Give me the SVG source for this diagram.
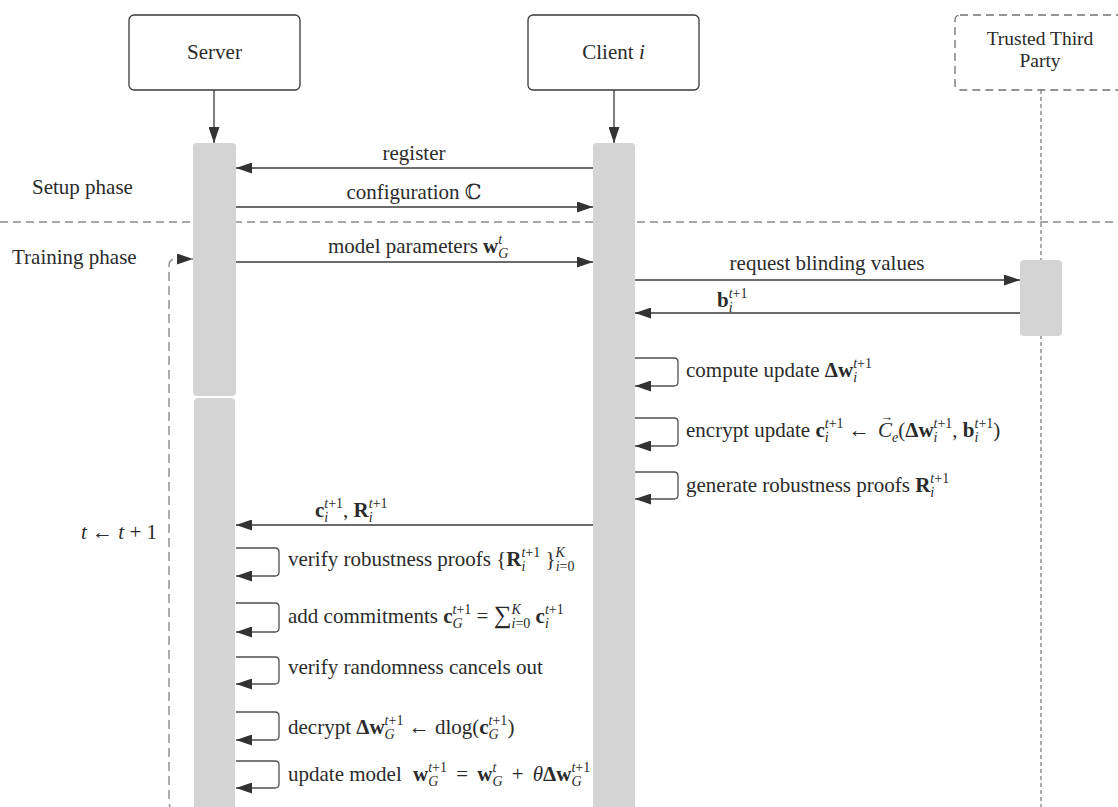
<svg xmlns="http://www.w3.org/2000/svg" width="1118" height="807" viewBox="0 0 1118 807">
  <style>
    .t { font-family: "Liberation Serif", "DejaVu Serif", serif; font-size: 21px; fill: #2b2b2b; }
    .b { font-weight: bold; }
    .i { font-style: italic; }
    .s { font-size: 14px; }
    .acc { font-size: 13px; }
    .big { font-size: 25px; }
    .box { fill: #ffffff; stroke: #3a3a3a; stroke-width: 1.3; }
    .ttp { fill: #ffffff; stroke: #707070; stroke-width: 1.3; stroke-dasharray: 8 5; }
    .bar { fill: #d4d4d4; }
    .msg { fill: none; stroke: #3a3a3a; stroke-width: 1.3; marker-end: url(#ah); }
    .loop { fill: none; stroke: #505050; stroke-width: 1.3; marker-end: url(#ah); }
    .sep { stroke: #8a8a8a; stroke-width: 1.4; stroke-dasharray: 8 5; }
    .life { stroke: #6a6a6a; stroke-width: 1.1; stroke-dasharray: 4 3; }
    .again { fill: none; stroke: #8a8a8a; stroke-width: 1.4; stroke-dasharray: 9 5; marker-end: url(#ah); }
  </style>
  <defs>
    <marker id="ah" markerUnits="userSpaceOnUse" markerWidth="17" markerHeight="11" refX="16" refY="5.5" orient="auto">
      <path d="M0,0 L16,5.5 L0,11 z" fill="#333333"/>
    </marker>
  </defs>

  <!-- phase separator and third-party lifeline -->
  <line class="sep" x1="0" y1="222" x2="1118" y2="222"/>
  <line class="life" x1="1041" y1="90" x2="1041" y2="807"/>

  <!-- participants -->
  <g id="server">
    <rect class="box" x="129" y="15" width="171" height="75" rx="5"/>
    <text class="t" x="214.5" y="59" text-anchor="middle">Server</text>
  </g>
  <g id="client">
    <rect class="box" x="528" y="15" width="171" height="75" rx="5"/>
    <text class="t" x="613.5" y="59" text-anchor="middle">Client <tspan class="i">i</tspan></text>
  </g>
  <g id="ttp">
    <rect class="ttp" x="955" y="15" width="175" height="75" rx="5"/>
    <text class="t" x="1040" y="45" text-anchor="middle" style="font-size:19.5px">Trusted Third</text>
    <text class="t" x="1040" y="67" text-anchor="middle" style="font-size:19.5px">Party</text>
  </g>

  <!-- activation bars -->
  <g id="server-activation">
    <rect class="bar" x="193" y="143" width="43" height="253" rx="4"/>
    <rect class="bar" x="194" y="398" width="41" height="430" rx="4"/>
  </g>
  <g id="client-activation">
    <rect class="bar" x="593" y="143" width="42" height="690" rx="4"/>
  </g>
  <g id="ttp-activation">
    <rect class="bar" x="1020" y="260" width="42" height="76" rx="4"/>
  </g>

  <!-- phase labels -->
  <g id="phases">
    <text class="t" x="32" y="194">Setup phase</text>
    <text class="t" x="12" y="264">Training phase</text>
    <text class="t" x="81" y="539"><tspan class="i">t</tspan> ← <tspan class="i">t</tspan> + 1</text>
  </g>

  <!-- connectors -->
  <g id="connectors">
    <line class="msg" x1="214" y1="90" x2="214" y2="143"/>
    <line class="msg" x1="614" y1="90" x2="614" y2="143"/>
    <line class="msg" x1="593" y1="168" x2="236" y2="168"/>
    <line class="msg" x1="236" y1="207" x2="593" y2="207"/>
    <line class="msg" x1="236" y1="262" x2="593" y2="262"/>
    <path class="again" d="M173 812 Q169 808 169 800 L169 266 Q169 259 176 259 L193 259"/>
    <line class="msg" x1="635" y1="280" x2="1020" y2="280"/>
    <line class="msg" x1="1020" y1="313" x2="635" y2="313"/>
    <path class="loop" d="M635 358 H674 Q678 358 678 362 V382 Q678 386 674 386 H635"/>
    <path class="loop" d="M635 418 H674 Q678 418 678 422 V442 Q678 446 674 446 H635"/>
    <path class="loop" d="M635 472 H674 Q678 472 678 476 V495 Q678 499 674 499 H635"/>
    <line class="msg" x1="593" y1="525" x2="236" y2="525"/>
    <path class="loop" d="M236 548 H275 Q279 548 279 552 V572 Q279 576 275 576 H236"/>
    <path class="loop" d="M236 603 H275 Q279 603 279 607 V628 Q279 632 275 632 H236"/>
    <path class="loop" d="M236 657 H275 Q279 657 279 661 V680 Q279 684 275 684 H236"/>
    <path class="loop" d="M236 712 H275 Q279 712 279 716 V736 Q279 740 275 740 H236"/>
    <path class="loop" d="M236 761 H275 Q279 761 279 765 V784 Q279 788 275 788 H236"/>
  </g>

  <!-- message labels -->
  <g id="labels">
    <text class="t" x="414" y="160" text-anchor="middle">register</text>
    <text class="t" x="414" y="199" text-anchor="middle">configuration ℂ</text>
    <text class="t" x="328" y="253">model parameters <tspan class="b">w</tspan><tspan class="s i" dy="5">G</tspan><tspan class="s i" dx="-10.1" dy="-14">t</tspan></text>
    <text class="t" x="827" y="270" text-anchor="middle">request blinding values</text>
    <text class="t" x="717" y="307"><tspan class="b">b</tspan><tspan class="s i" dy="5">i</tspan><tspan class="s" dx="-3.9" dy="-14"><tspan class="i">t</tspan>+1</tspan></text>
    <text class="t" x="686" y="377">compute update <tspan class="b">Δw</tspan><tspan class="s i" dy="5">i</tspan><tspan class="s" dx="-3.9" dy="-14"><tspan class="i">t</tspan>+1</tspan></text>
    <!-- the small arrow is the vector accent over C -->
    <text class="t" x="686" y="437">encrypt update  <tspan class="b">c</tspan><tspan class="s i" dy="5">i</tspan><tspan class="s" dx="-3.9" dy="-14"><tspan class="i">t</tspan>+1</tspan><tspan dy="9"> ←</tspan><tspan class="acc" x="880" y="421">→</tspan><tspan class="i" x="878" y="437">C</tspan><tspan class="s i" dy="5">e</tspan><tspan dy="-5">(</tspan><tspan class="b">Δw</tspan><tspan class="s i" dy="5">i</tspan><tspan class="s" dx="-3.9" dy="-14"><tspan class="i">t</tspan>+1</tspan><tspan dy="9">, </tspan><tspan class="b">b</tspan><tspan class="s i" dy="5">i</tspan><tspan class="s" dx="-3.9" dy="-14"><tspan class="i">t</tspan>+1</tspan><tspan dy="9">)</tspan></text>
    <text class="t" x="686" y="492">generate robustness proofs  <tspan class="b">R</tspan><tspan class="s i" dy="5">i</tspan><tspan class="s" dx="-3.9" dy="-14"><tspan class="i">t</tspan>+1</tspan></text>
    <text class="t" x="315" y="517"><tspan class="b">c</tspan><tspan class="s i" dy="5">i</tspan><tspan class="s" dx="-3.9" dy="-14"><tspan class="i">t</tspan>+1</tspan><tspan dy="9">, </tspan><tspan class="b">R</tspan><tspan class="s i" dy="5">i</tspan><tspan class="s" dx="-3.9" dy="-14"><tspan class="i">t</tspan>+1</tspan></text>
    <text class="t" x="288" y="566">verify robustness proofs  {<tspan class="b">R</tspan><tspan class="s i" dy="5">i</tspan><tspan class="s" dx="-3.9" dy="-14"><tspan class="i">t</tspan>+1</tspan><tspan dy="9"> }</tspan><tspan class="s i" dy="-9">K</tspan><tspan class="s" dx="-9.3" dy="14"><tspan class="i">i</tspan>=0</tspan></text>
    <text class="t" x="288" y="623">add commitments <tspan class="b">c</tspan><tspan class="s i" dy="5">G</tspan><tspan class="s" dx="-10.1" dy="-14"><tspan class="i">t</tspan>+1</tspan><tspan dy="9"> = </tspan><tspan class="big">∑</tspan><tspan class="s i" dy="-9">K</tspan><tspan class="s" dx="-9.3" dy="14"><tspan class="i">i</tspan>=0</tspan><tspan dy="-5"> </tspan><tspan class="b">c</tspan><tspan class="s i" dy="5">i</tspan><tspan class="s" dx="-3.9" dy="-14"><tspan class="i">t</tspan>+1</tspan></text>
    <text class="t" x="288" y="674">verify randomness cancels out</text>
    <text class="t" x="288" y="734">decrypt  <tspan class="b">Δw</tspan><tspan class="s i" dy="5">G</tspan><tspan class="s" dx="-10.1" dy="-14"><tspan class="i">t</tspan>+1</tspan><tspan dy="9"> ← dlog(</tspan><tspan class="b">c</tspan><tspan class="s i" dy="5">G</tspan><tspan class="s" dx="-10.1" dy="-14"><tspan class="i">t</tspan>+1</tspan><tspan dy="9">)</tspan></text>
    <text class="t" x="288" y="781">update model  <tspan class="b" dx="6">w</tspan><tspan class="s i" dy="5">G</tspan><tspan class="s" dx="-10.1" dy="-14"><tspan class="i">t</tspan>+1</tspan><tspan dx="4" dy="9"> = </tspan><tspan class="b" dx="4">w</tspan><tspan class="s i" dy="5">G</tspan><tspan class="s i" dx="-10.1" dy="-14">t</tspan><tspan dx="10" dy="9"> + </tspan><tspan class="i" dx="4">θ</tspan><tspan class="b">Δw</tspan><tspan class="s i" dy="5">G</tspan><tspan class="s" dx="-10.1" dy="-14"><tspan class="i">t</tspan>+1</tspan></text>
  </g>
</svg>
